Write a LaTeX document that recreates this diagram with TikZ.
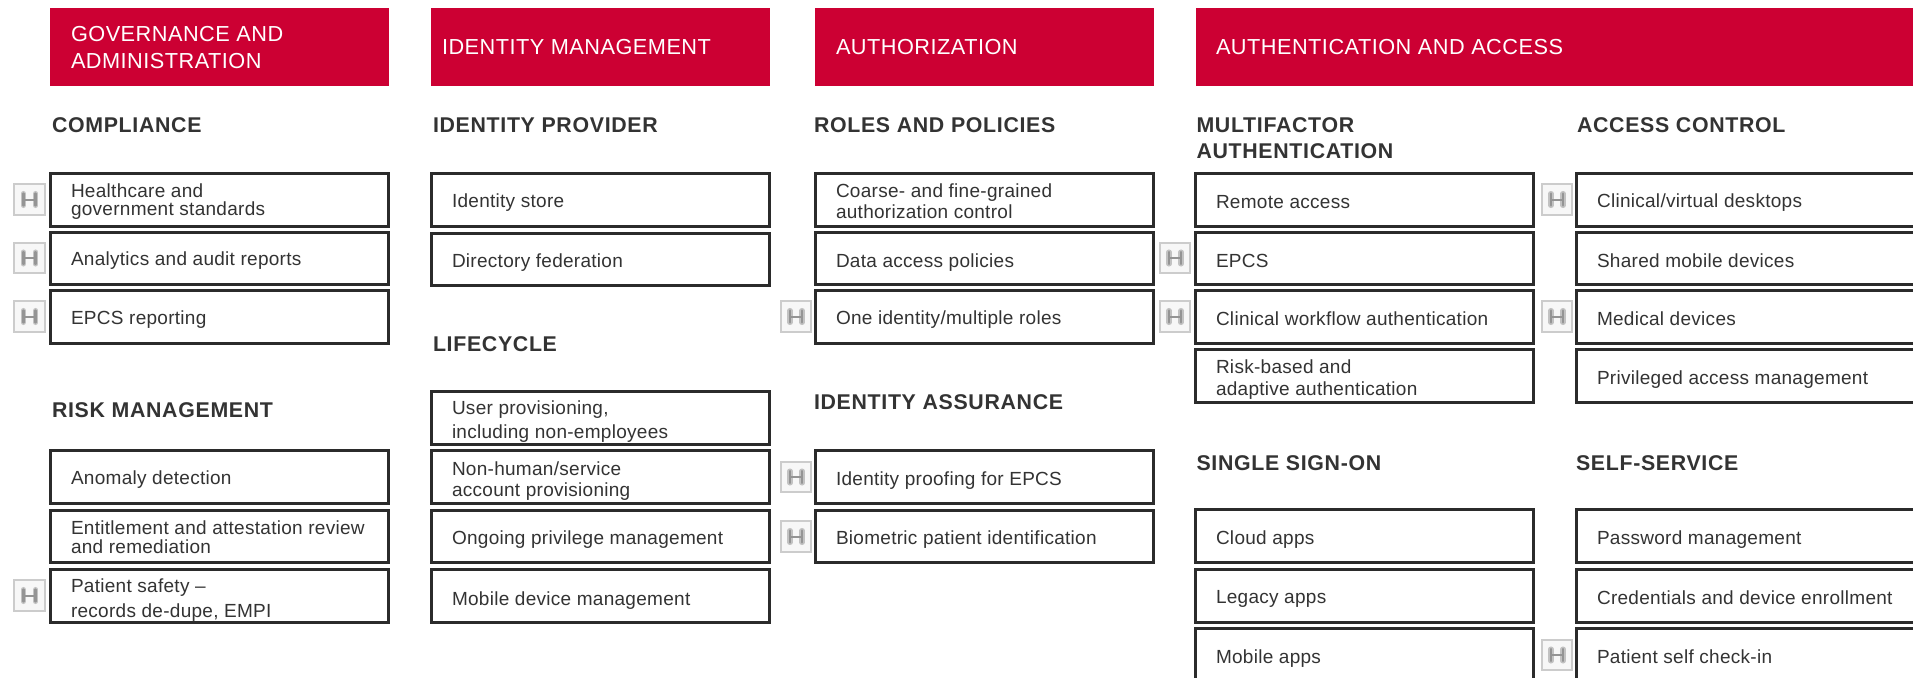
\documentclass[tikz,border=0pt]{standalone}
\usepackage{fontspec}
\setmainfont{Liberation Sans}
\newfontfamily\itemfont[LetterSpace=1.5]{Liberation Sans}
\newfontfamily\headfont[LetterSpace=2.2]{Liberation Sans}
\newfontfamily\secfont[LetterSpace=3.2]{Liberation Sans Bold}
\definecolor{brandred}{HTML}{CC0033}
\definecolor{boxline}{HTML}{2B2B2B}
\definecolor{inktext}{HTML}{333333}
\tikzset{
  itembox/.style={draw=boxline,line width=2.1pt,fill=white,rectangle,inner sep=0pt,outer sep=0pt,minimum width=253.8pt,minimum height=39.4pt},
  itemtext/.style={anchor=base west,inner sep=0pt,outer sep=0pt,text=inktext,font=\itemfont\fontsize{14.25pt}{17pt}\selectfont},
  headbox/.style={fill=brandred,rectangle,inner sep=0pt,outer sep=0pt,anchor=north west},
  headtext/.style={anchor=base west,inner sep=0pt,outer sep=0pt,text=white,font=\headfont\fontsize{16.3pt}{20pt}\selectfont},
  sectext/.style={anchor=base west,inner sep=0pt,outer sep=0pt,text=inktext,font=\secfont\fontsize{16pt}{20pt}\selectfont},
  iconbox/.style={draw=black!20,line width=1.6pt,fill=black!3,rectangle,inner sep=0pt,outer sep=0pt,minimum width=23pt,minimum height=23pt},
  iconglow/.style={draw=black!24,line width=4pt,line cap=round},
  iconmark/.style={draw=black!42,line width=2pt,line cap=round},
}
% box: name, left x, centre y, text, baseline
\newcommand{\oneline}[5]{%
  \node[itembox] (#1) at (#2+169.5,#3) {};
  \node[itemtext] (#1t) at (#2+21,#5) {#4};}
% two lines: name, left x, centre y, line 1, line 2, gap in px, baseline of line 2
\newcommand{\twoline}[7]{%
  \node[itembox] (#1) at (#2+169.5,#3) {};
  \node[itemtext] (#1t) at (#2+21,#7) {\makebox[0pt][l]{\raisebox{#6\dimexpr0.75pt\relax}{#4}}#5};}
% hospital icon: name, centre x, centre y
\newcommand{\hicon}[3]{%
  \node[iconbox] (#1) at (#2,#3) {};
  \foreach \lay in {iconglow,iconmark}{
    \draw[\lay] ([xshift=-4.6pt,yshift=4.4pt]#1.center) -- ([xshift=-4.6pt,yshift=-4.4pt]#1.center);
    \draw[\lay] ([xshift=4.6pt,yshift=4.4pt]#1.center) -- ([xshift=4.6pt,yshift=-4.4pt]#1.center);
  }
  \draw[iconmark,line width=1.5pt] ([xshift=-4.6pt]#1.center) -- ([xshift=4.6pt]#1.center);}
\begin{document}
\begin{tikzpicture}[x=0.75pt,y=-0.75pt]
\clip (0,0) rectangle (1913,678);
\fill[white] (0,0) rectangle (1913,678);
% header bands
\node[headbox,minimum width=254.25pt,minimum height=58.5pt] (h1) at (50,8) {};
\node[headbox,minimum width=254.25pt,minimum height=58.5pt] (h2) at (431,8) {};
\node[headbox,minimum width=254.25pt,minimum height=58.5pt] (h3) at (815,8) {};
\node[headbox,minimum width=540pt,minimum height=58.5pt] (h4) at (1196,8) {};
\node[headtext] (h1a) at (71,41) {GOVERNANCE AND};
\node[headtext] (h1b) at (71,68) {ADMINISTRATION};
\node[headtext] (h2a) at (442,54.5) {IDENTITY MANAGEMENT};
\node[headtext] (h3a) at (836,54.5) {AUTHORIZATION};
\node[headtext] (h4a) at (1216,54.5) {AUTHENTICATION AND ACCESS};
% section headings
\node[sectext] (s1) at (52,132) {COMPLIANCE};
\node[sectext] (s2) at (52,417) {RISK MANAGEMENT};
\node[sectext] (s3) at (433,132) {IDENTITY PROVIDER};
\node[sectext] (s4) at (433,351) {LIFECYCLE};
\node[sectext] (s5) at (814,132) {ROLES AND POLICIES};
\node[sectext] (s6) at (814,409) {IDENTITY ASSURANCE};
\node[sectext] (s7) at (1196.5,132) {MULTIFACTOR};
\node[sectext] (s7b) at (1196.5,158) {AUTHENTICATION};
\node[sectext] (s8) at (1577,132) {ACCESS CONTROL};
\node[sectext] (s9) at (1196.5,470) {SINGLE SIGN-ON};
\node[sectext] (s10) at (1576,470) {SELF-SERVICE};
% column 1
\twoline{a1}{50}{200}{Healthcare and}{government standards}{18}{215}
\oneline{a2}{50}{258.5}{Analytics and audit reports}{265}
\oneline{a3}{50}{317}{EPCS reporting}{324}
\oneline{a4}{50}{477}{Anomaly detection}{484}
\twoline{a5}{50}{536.5}{Entitlement and attestation review}{and remediation}{19}{553}
\twoline{a6}{50}{596}{Patient safety –}{records de-dupe, EMPI}{25}{617}
% column 2
\oneline{b1}{431}{200}{Identity store}{207}
\oneline{b2}{431}{259.5}{Directory federation}{267}
\twoline{b3}{431}{418}{User provisioning,}{including non-employees}{24}{438}
\twoline{b4}{431}{477}{Non-human/service}{account provisioning}{21}{496}
\oneline{b5}{431}{536.5}{Ongoing privilege management}{544}
\oneline{b6}{431}{596}{Mobile device management}{605}
% column 3
\twoline{c1}{815}{200}{Coarse- and fine-grained}{authorization control}{21}{218}
\oneline{c2}{815}{258.5}{Data access policies}{267}
\oneline{c3}{815}{317}{One identity/multiple roles}{324}
\oneline{c4}{815}{477}{Identity proofing for EPCS}{485}
\oneline{c5}{815}{536.5}{Biometric patient identification}{544}
% column 4
\oneline{d1}{1195}{200}{Remote access}{208}
\oneline{d2}{1195}{258.5}{EPCS}{267}
\oneline{d3}{1195}{317}{Clinical workflow authentication}{325}
\twoline{d4}{1195}{376}{Risk-based and}{adaptive authentication}{22}{395}
\oneline{d5}{1195}{536}{Cloud apps}{544}
\oneline{d6}{1195}{596}{Legacy apps}{603}
\oneline{d7}{1195}{655}{Mobile apps}{663}
% column 5
\oneline{e1}{1576}{200}{Clinical/virtual desktops}{207}
\oneline{e2}{1576}{258.5}{Shared mobile devices}{267}
\oneline{e3}{1576}{317}{Medical devices}{325}
\oneline{e4}{1576}{376}{Privileged access management}{384}
\oneline{e5}{1576}{536}{Password management}{544}
\oneline{e6}{1576}{596}{Credentials and device enrollment}{604}
\oneline{e7}{1576}{655}{Patient self check-in}{663}
% icons
\hicon{i1}{29.5}{199.5}
\hicon{i2}{29.5}{258}
\hicon{i3}{29.5}{316.5}
\hicon{i4}{29.5}{595.5}
\hicon{i5}{796}{316.5}
\hicon{i6}{796}{477}
\hicon{i7}{796}{536.5}
\hicon{i8}{1175}{258}
\hicon{i9}{1175}{316.5}
\hicon{i10}{1557}{199.5}
\hicon{i11}{1557}{316.5}
\hicon{i12}{1557}{655}
\end{tikzpicture}
\end{document}
